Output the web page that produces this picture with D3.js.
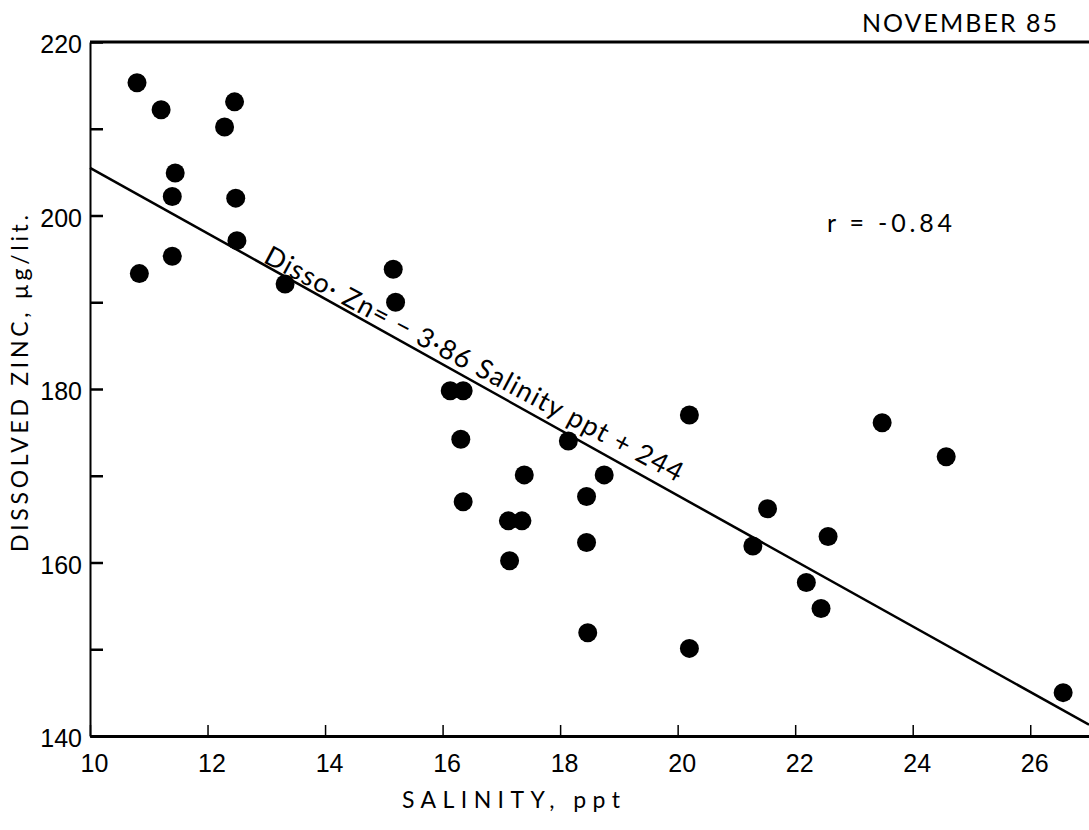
<!DOCTYPE html>
<html lang="en">
<head>
    <meta charset="UTF-8">
    <title>Dissolved Zinc vs Salinity - November 85</title>
    <script src="https://d3js.org/d3.v7.min.js"></script>
    <style>
        body {
            margin: 0;
            padding: 0;
            background-color: #fff;
        }
        svg {
            display: block;
            font-family: Lato, "DejaVu Sans", sans-serif;
        }
        .axis text {
            font-size: 25px;
            fill: #000;
        }
        .axis line, .axis path {
            stroke: #000;
        }
    </style>
</head>
<body>
    <div id="chart"></div>

    <script>
        // salinity (ppt) and dissolved zinc (ug/lit)
        const salinity = [
            10.80, 11.21, 12.46, 12.29, 11.45, 11.40, 12.48, 12.50, 11.40, 10.84,
            13.32, 15.16, 15.20, 16.13, 16.35, 16.31, 18.14, 20.20, 17.39, 18.75,
            16.35, 18.45, 17.12, 17.35, 18.45, 17.14, 18.47, 20.20, 23.48, 24.57,
            21.53, 22.56, 21.28, 22.19, 22.44, 26.56
        ];
        const zinc = [
            215.3, 212.2, 213.1, 210.2, 204.9, 202.2, 202.0, 197.1, 195.3, 193.3,
            192.1, 193.8, 190.0, 179.8, 179.8, 174.2, 174.0, 177.0, 170.1, 170.1,
            167.0, 167.6, 164.8, 164.8, 162.3, 160.2, 151.9, 150.1, 176.1, 172.2,
            166.2, 163.0, 161.9, 157.7, 154.7, 145.0
        ];

        // fitted line as drawn on the figure (end points)
        const fitX = [10, 27];
        const fitY = [205.5, 141.3];

        const xTicks = [10, 12, 14, 16, 18, 20, 22, 24, 26];
        const yTicks = [140, 150, 160, 170, 180, 190, 200, 210, 220];
        const yLabelled = [140, 160, 180, 200, 220];

        const title = "NOVEMBER 85";
        const rText = "r = -0.84";
        const eqText = "Disso· Zn= − 3·86 Salinity ppt + 244";
        const xTitle = "SALINITY, ppt";
        const yTitle = "DISSOLVED ZINC, µg/lit.";

        const width = 1089, height = 830;
        const mLeft = 90, mRight = 1089, mTop = 42, mBottom = 736;

        const svg = d3.select("#chart")
            .append("svg")
            .attr("width", width)
            .attr("height", height);

        const x = d3.scaleLinear().domain([10, 27]).range([mLeft, mRight]);
        const y = d3.scaleLinear().domain([140, 220]).range([mBottom, mTop]);

        // y axis, ticks pointing inward
        const yAxis = svg.append("g")
            .attr("class", "axis")
            .attr("transform", `translate(${mLeft},0)`)
            .call(d3.axisLeft(y)
                .tickValues(yTicks)
                .tickSizeInner(-13)
                .tickSizeOuter(0)
                .tickPadding(8)
                .tickFormat(d => yLabelled.includes(d) ? d : ""));
        yAxis.select(".domain").attr("stroke-width", 2);
        yAxis.selectAll(".tick line").attr("stroke-width", 2.5);
        yAxis.selectAll(".tick text").attr("dy", "0.42em");

        // x axis
        const xAxis = svg.append("g")
            .attr("class", "axis")
            .attr("transform", `translate(0,${mBottom})`)
            .call(d3.axisBottom(x)
                .tickValues(xTicks)
                .tickSizeInner(-11)
                .tickSizeOuter(0)
                .tickPadding(18));
        xAxis.select(".domain").attr("stroke-width", 3);
        xAxis.selectAll(".tick line").attr("stroke-width", 1.5);
        xAxis.selectAll(".tick text").attr("dx", 4);

        // top frame line
        svg.append("line")
            .attr("x1", x(10)).attr("x2", x(27))
            .attr("y1", y(220)).attr("y2", y(220))
            .attr("stroke", "#000")
            .attr("stroke-width", 3);

        // regression line
        const line = d3.line()
            .x(d => x(d[0]))
            .y(d => y(d[1]));
        svg.append("path")
            .datum(d3.zip(fitX, fitY))
            .attr("d", line)
            .attr("fill", "none")
            .attr("stroke", "#000")
            .attr("stroke-width", 2.5);

        // data points
        svg.selectAll("circle.pt")
            .data(d3.zip(salinity, zinc))
            .enter()
            .append("circle")
            .attr("class", "pt")
            .attr("cx", d => x(d[0]))
            .attr("cy", d => y(d[1]))
            .attr("r", 9.5)
            .attr("fill", "#000");

        // equation along the line
        const ex = 12.93;
        const ey = fitY[0] + (ex - fitX[0]) * (fitY[1] - fitY[0]) / (fitX[1] - fitX[0]);
        svg.append("text")
            .attr("transform", `translate(${x(ex)},${y(ey) - 2}) rotate(28)`)
            .attr("font-size", 27)
            .attr("textLength", 470)
            .attr("lengthAdjust", "spacing")
            .text(eqText);

        // title, r value
        svg.append("text")
            .attr("x", 862).attr("y", 32)
            .attr("font-size", 25)
            .attr("textLength", 195)
            .attr("lengthAdjust", "spacing")
            .text(title);

        svg.append("text")
            .attr("x", 827).attr("y", 232)
            .attr("font-size", 25)
            .attr("textLength", 125)
            .attr("lengthAdjust", "spacing")
            .text(rText);

        // axis titles
        svg.append("text")
            .attr("x", 402).attr("y", 808)
            .attr("font-size", 23)
            .attr("textLength", 218)
            .attr("lengthAdjust", "spacing")
            .text(xTitle);

        svg.append("text")
            .attr("transform", "translate(28,552) rotate(-90)")
            .attr("font-size", 23)
            .attr("textLength", 337)
            .attr("lengthAdjust", "spacing")
            .text(yTitle);
    </script>
</body>
</html>
